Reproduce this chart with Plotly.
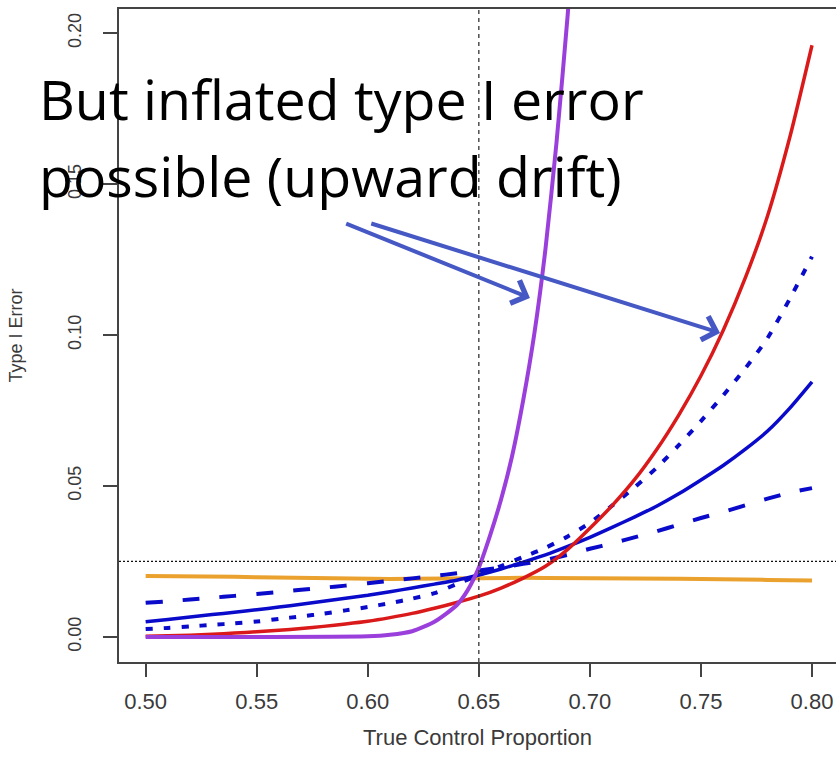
import plotly.graph_objects as go

# ---- data ----
control_prop = [0.50, 0.51, 0.52, 0.53, 0.54, 0.55, 0.56, 0.57, 0.58, 0.59,
                0.60, 0.61, 0.62, 0.63, 0.64, 0.65, 0.66, 0.67, 0.68, 0.69,
                0.70, 0.71, 0.72, 0.73, 0.74, 0.75, 0.76, 0.77, 0.78, 0.79, 0.80]

orange_err = [0.0202, 0.0202, 0.0201, 0.0199, 0.0199, 0.0198, 0.0197, 0.0195, 0.0193, 0.0193,
              0.0192, 0.0192, 0.0193, 0.0194, 0.0195, 0.0196, 0.0196, 0.0196, 0.0195, 0.0195,
              0.0196, 0.0196, 0.0196, 0.0195, 0.0193, 0.0192, 0.0192, 0.0191, 0.0189, 0.0188, 0.0187]

dashed_err = [0.0113, 0.0118, 0.0124, 0.0130, 0.0136, 0.0142, 0.0149, 0.0156, 0.0163, 0.0170,
              0.0178, 0.0186, 0.0194, 0.0202, 0.0211, 0.0220, 0.0230, 0.0242, 0.0255, 0.0272,
              0.0292, 0.0310, 0.0330, 0.0350, 0.0372, 0.0394, 0.0414, 0.0436, 0.0458, 0.0478, 0.0493]

solid_err = [0.0050, 0.0058, 0.0066, 0.0074, 0.0082, 0.0090, 0.0099, 0.0108, 0.0118, 0.0128,
             0.0138, 0.0150, 0.0162, 0.0175, 0.0188, 0.0205, 0.0225, 0.0248, 0.0272, 0.0300,
             0.0330, 0.0363, 0.0397, 0.0433, 0.0474, 0.0520, 0.0568, 0.0622, 0.0682, 0.0758, 0.0845]

dotted_err = [0.0026, 0.0030, 0.0035, 0.0040, 0.0045, 0.0051, 0.0060, 0.0068, 0.0077, 0.0088,
              0.0099, 0.0112, 0.0127, 0.0145, 0.0175, 0.0205, 0.0235, 0.0265, 0.0295, 0.0333,
              0.0378, 0.0435, 0.0495, 0.0560, 0.0635, 0.0715, 0.0800, 0.0890, 0.0990, 0.1120, 0.1260]

red_err = [0.0002, 0.0004, 0.0006, 0.0009, 0.0013, 0.0017, 0.0022, 0.0028, 0.0035, 0.0043,
           0.0052, 0.0064, 0.0078, 0.0095, 0.0114, 0.0135, 0.0162, 0.0195, 0.0234, 0.0290,
           0.0360, 0.0435, 0.0520, 0.0620, 0.0735, 0.0865, 0.1015, 0.1190, 0.1395, 0.1655, 0.1960]

purple_prop = [0.50, 0.55, 0.60, 0.61, 0.62, 0.63, 0.64, 0.645, 0.65, 0.655,
               0.66, 0.665, 0.67, 0.675, 0.68, 0.685, 0.69, 0.695]
purple_err = [0.0, 0.0, 0.0002, 0.0007, 0.0019, 0.0050, 0.0105, 0.0155, 0.0230, 0.0335,
              0.0455, 0.0600, 0.0785, 0.1005, 0.1285, 0.1640, 0.2060, 0.2550]

null_control = 0.65
alpha_level = 0.025

x_ticks = [0.50, 0.55, 0.60, 0.65, 0.70, 0.75, 0.80]
x_tick_text = ["0.50", "0.55", "0.60", "0.65", "0.70", "0.75", "0.80"]
y_ticks = [0.00, 0.05, 0.10, 0.15, 0.20]
y_tick_text = ["0.00", "0.05", "0.10", "0.15", "0.20"]

title_line1 = "But inflated type I error"
title_line2 = "possible (upward drift)"

# ---- styles ----
BLUE = "#0A0ACB"
fig = go.Figure()

fig.add_trace(go.Scatter(x=control_prop, y=orange_err, mode="lines",
                         line=dict(color="#EAA12E", width=4)))
fig.add_trace(go.Scatter(x=control_prop, y=dashed_err, mode="lines",
                         line=dict(color=BLUE, width=4, dash="17px,20px", shape="spline", smoothing=0.6)))
fig.add_trace(go.Scatter(x=control_prop, y=solid_err, mode="lines",
                         line=dict(color=BLUE, width=3.5, shape="spline", smoothing=0.6)))
fig.add_trace(go.Scatter(x=control_prop, y=dotted_err, mode="lines",
                         line=dict(color=BLUE, width=4, dash="7px,11px", shape="spline", smoothing=0.6)))
fig.add_trace(go.Scatter(x=control_prop, y=red_err, mode="lines",
                         line=dict(color="#DA1A1A", width=3.5, shape="spline", smoothing=0.6)))
fig.add_trace(go.Scatter(x=purple_prop, y=purple_err, mode="lines",
                         line=dict(color="#9B3FDC", width=4, shape="spline", smoothing=0.6)))

# reference lines
fig.add_shape(type="line", xref="x", yref="paper", x0=null_control, x1=null_control,
              y0=0, y1=1, line=dict(color="#333333", width=1.3, dash="4px,4px"))
fig.add_shape(type="line", xref="paper", yref="y", x0=0, x1=1,
              y0=alpha_level, y1=alpha_level, line=dict(color="#111111", width=1.3, dash="2px,2px"))

axis_font = dict(family="Liberation Sans, Arial, sans-serif", color="#3a3a3a")

fig.update_layout(
    width=836, height=760,
    margin=dict(l=119, r=0, t=9, b=98),
    paper_bgcolor="white", plot_bgcolor="white",
    showlegend=False,
    xaxis=dict(range=[0.488, 0.8108], tickvals=x_ticks, ticktext=x_tick_text,
               showgrid=False, zeroline=False, showline=True, mirror=True,
               linecolor="#444444", linewidth=1.5,
               ticks="outside", ticklen=13, tickwidth=1.5, tickcolor="#444444",
               ticklabelstandoff=6,
               tickfont=dict(size=22, **axis_font),
               title=dict(text="True Control Proportion", font=dict(size=22, **axis_font),
                          standoff=16)),
    yaxis=dict(range=[-0.0083, 0.208], tickvals=y_ticks, ticktext=y_tick_text,
               showgrid=False, zeroline=False, showline=True, mirror=False,
               linecolor="#444444", linewidth=1.5,
               ticks="outside", ticklen=14, tickwidth=1.5, tickcolor="#444444",
               ticklabelstandoff=15,
               tickangle=-90, tickfont=dict(size=18, **axis_font),
               title=dict(text="Type I Error", font=dict(size=18, **axis_font),
                          standoff=38)),
)

big_font = dict(family="Open Sans, sans-serif", size=55.5, color="#000000")
fig.add_annotation(text=title_line1, xref="paper", yref="paper", x=(37 - 119) / 717,
                   y=(651 - 87) / 653, xanchor="left", yanchor="middle",
                   showarrow=False, font=big_font)
fig.add_annotation(text=title_line2, xref="paper", yref="paper", x=(37 - 119) / 717,
                   y=(651 - 165) / 653, xanchor="left", yanchor="middle",
                   showarrow=False, font=big_font)

# arrows (start and tip positions)
arrow_color = "#4658C4"
arrows = [((0.5896, 0.1371), (0.673, 0.1123)),
          ((0.6009, 0.1371), (0.7586, 0.1007))]
for (sx, sy), (tx, ty) in arrows:
    fig.add_annotation(x=tx, y=ty, ax=sx, ay=sy, xref="x", yref="y", axref="x", ayref="y",
                       text="", showarrow=True, arrowhead=4, arrowsize=1.2,
                       arrowwidth=4, arrowcolor=arrow_color)

fig.write_html("out.html")
